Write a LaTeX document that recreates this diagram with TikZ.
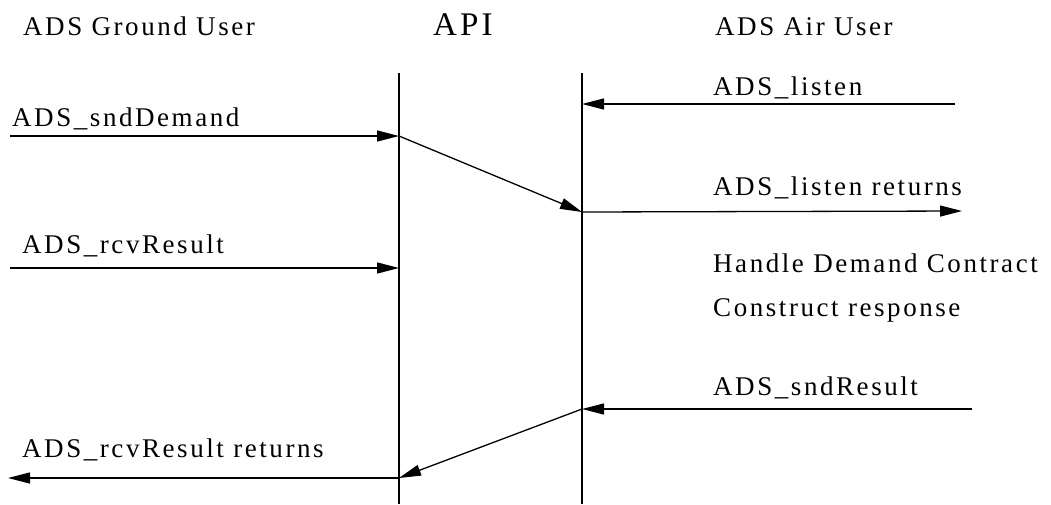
\documentclass[tikz,border=0pt]{standalone}
\usepackage{fontspec}
\setmainfont{Liberation Serif}[LetterSpace=9.5]
\usetikzlibrary{arrows.meta}
\begin{document}
\begin{tikzpicture}[x=1pt,y=-1pt,
  lbl/.style={anchor=base west,inner sep=0pt,font=\fontsize{27}{30}\selectfont},
  hdr/.style={anchor=base west,inner sep=0pt,font=\fontsize{27}{30}\selectfont},
  msg/.style={line width=1.3pt,-{Triangle[length=22pt,width=11pt]}},
  life/.style={line width=1.3pt}]
\useasboundingbox (0,0) rectangle (1051,504);
% headers
\node[hdr] (hg) at (23,35) {ADS Ground User};
\node[hdr,font=\fontsize{33}{36}\selectfont] (hapi) at (433,35) {API};
\node[hdr] (ha) at (715,35) {ADS Air User};
% lifelines
\coordinate (l1t) at (399,73); \coordinate (l1b) at (399,504);
\coordinate (l2t) at (582,73); \coordinate (l2b) at (582,504);
\draw[life] (l1t) -- (l1b);
\draw[life] (l2t) -- (l2b);
% points
\coordinate (g1) at (10,136);  \coordinate (a1) at (399,136);
\coordinate (b1) at (582,212);
\coordinate (r1) at (955,104); \coordinate (b0) at (582,104);
\coordinate (r2) at (962,211);
\coordinate (g2) at (10,268);  \coordinate (a2) at (399,268);
\coordinate (r3) at (972,409); \coordinate (b3) at (582,409);
\coordinate (a4) at (399,478); \coordinate (g4) at (8,478);
% messages
\draw[msg] (g1) -- (a1);
\draw[msg] (a1) -- (b1);
\draw[msg] (r1) -- (b0);
\draw[msg] (b1) -- (r2);
\draw[msg] (g2) -- (a2);
\draw[msg] (r3) -- (b3);
\draw[msg] (b3) -- (a4);
\draw[msg] (a4) -- (g4);
% labels
\node[lbl] (t1) at (12,126) {ADS\_sndDemand};
\node[lbl] (t2) at (713,95) {ADS\_listen};
\node[lbl] (t3) at (713,195) {ADS\_listen returns};
\node[lbl] (t4) at (22,253) {ADS\_rcvResult};
\node[lbl] (t5) at (713,272) {Handle Demand Contract};
\node[lbl] (t6) at (713,316) {Construct response};
\node[lbl] (t7) at (713,395) {ADS\_sndResult};
\node[lbl] (t8) at (22,457) {ADS\_rcvResult returns};
\end{tikzpicture}
\end{document}
